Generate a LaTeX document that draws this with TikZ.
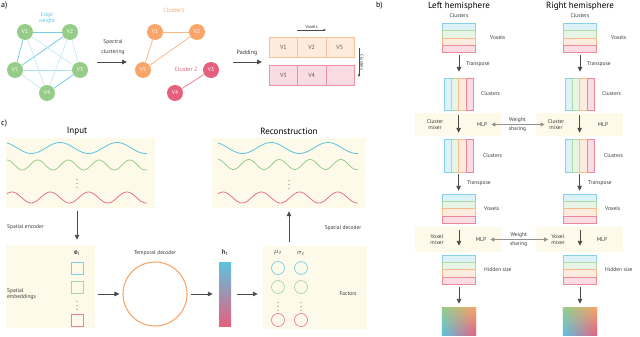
\documentclass[tikz,border=0pt]{standalone}
\usepackage{fontspec}
\setmainfont{PT Sans}
\usetikzlibrary{arrows.meta,positioning,calc}
\definecolor{mxblue}{HTML}{5CC3E0}
\definecolor{mxgreen}{HTML}{95CD88}
\definecolor{mxorange}{HTML}{F8A66A}
\definecolor{mxpink}{HTML}{E6607E}
\definecolor{mxcream}{HTML}{FEFAEA}
\definecolor{mxdark}{HTML}{4A4A4A}
\definecolor{mxtext}{HTML}{3A3A3A}

\begin{document}
\begin{tikzpicture}[x=1pt, y=-1pt,
    vert/.style={circle, fill=#1, minimum size=16pt, inner sep=0pt,
                 text=white, font=\fontsize{5.5}{6}\selectfont},
    gedge/.style={draw=mxblue!50, line width=0.45pt},
    gedge bold/.style={draw=mxblue!85, line width=0.8pt},
    lbl/.style={font=\fontsize{5.5}{6.5}\selectfont, text=mxtext, align=center, inner sep=1pt},
    smalllbl/.style={font=\fontsize{4.5}{5}\selectfont, text=mxtext, inner sep=1pt},
    headline/.style={font=\fontsize{9}{10}\selectfont, text=black, inner sep=0pt},
    paneltag/.style={font=\fontsize{8}{9}\selectfont, anchor=north west, inner sep=0pt},
    band/.style={fill=mxcream, inner sep=0pt},
    arr/.style={-{Triangle[length=5pt,width=4.5pt]}, line width=0.9pt, draw=mxdark},
    thin arr/.style={-{Triangle[length=2.5pt,width=2.2pt]}, line width=0.5pt, draw=mxdark},
    warr/.style={{Triangle[length=4pt,width=4pt]}-{Triangle[length=4pt,width=4pt]},
                 line width=0.9pt, draw=mxdark!60},
    cell/.style={draw=#1!70, fill=#1!22, minimum width=28.2pt, minimum height=20pt,
                 inner sep=0pt, font=\fontsize{6}{7}\selectfont, text=mxtext!85},
    hbar/.style={draw=#1!75, fill=#1!22, minimum width=33pt, minimum height=7.3pt,
                 inner sep=0pt, line width=0.6pt},
    vbar/.style 2 args={draw=#1!75, fill=#1!22, minimum width=7.3pt, minimum height=#2,
                 inner sep=0pt, line width=0.6pt},
    grp/.style={minimum width=#1, inner sep=0pt},
    wave/.style={draw=#1, line width=0.8pt, smooth},
    sqbox/.style={draw=#1!80, line width=0.7pt, minimum size=12pt, inner sep=0pt},
    fcirc/.style={circle, draw=#1!80, line width=0.7pt, minimum size=13pt, inner sep=0pt},
    vdot/.style={font=\fontsize{7}{8}\selectfont, inner sep=0pt}
]
  \useasboundingbox (0,0) rectangle (640,337);

  % a) graph before clustering
  \node[paneltag] at (1,2) {a)};
  \node[vert=mxgreen] (v1) at (25,32) {V1};
  \node[vert=mxgreen] (v2) at (70,32) {V2};
  \node[vert=mxgreen] (v5) at (15,70) {V5};
  \node[vert=mxgreen] (v3) at (80,70) {V3};
  \node[vert=mxgreen] (v4) at (47,93) {V4};
  \node[lbl, text=mxblue, font=\fontsize{5.5}{6}\selectfont] at (47,18) {Edge\\weight};
  \draw[gedge bold] (v1) -- (v2);
  \draw[gedge bold] (v1) -- (v5);
  \draw[gedge bold] (v2) -- (v5);
  \draw[gedge bold] (v3) -- (v4);
  \draw[gedge] (v1) -- (v3);
  \draw[gedge] (v1) -- (v4);
  \draw[gedge] (v2) -- (v3);
  \draw[gedge] (v2) -- (v4);
  \draw[gedge] (v5) -- (v3);
  \draw[gedge] (v5) -- (v4);

  \coordinate (sc1) at (97,62);
  \coordinate (sc2) at (127,62);
  \draw[arr] (sc1) -- (sc2);
  \node[lbl, font=\fontsize{5.5}{9.5}\selectfont] at (113,47) {Spectral\\clustering};

  % a) clusters
  \node[vert=mxorange] (c1) at (155,32) {V1};
  \node[vert=mxorange] (c2) at (197,32) {V2};
  \node[vert=mxorange] (c5) at (143,70) {V5};
  \node[vert=mxpink] (c3) at (211,70) {V3};
  \node[vert=mxpink] (c4) at (175,93) {V4};
  \node[lbl, text=mxorange, font=\fontsize{6}{7}\selectfont] at (174,10) {Cluster1};
  \node[lbl, text=mxpink, font=\fontsize{6}{7}\selectfont] at (186,69) {Cluster 2};
  \draw[draw=mxorange!80, line width=0.8pt] (c1) -- (c2);
  \draw[draw=mxorange!80, line width=0.8pt] (c1) -- (c5);
  \draw[draw=mxorange!80, line width=0.8pt] (c2) -- (c5);
  \draw[draw=mxpink!80, line width=0.8pt] (c3) -- (c4);

  \coordinate (pd1) at (233,62);
  \coordinate (pd2) at (262,62);
  \draw[arr] (pd1) -- (pd2);
  \node[lbl, font=\fontsize{6}{7}\selectfont] at (247,53) {Padding};

  % a) padded table
  \node[cell=mxorange] (t11) at (283.4,47) {V1};
  \node[cell=mxorange] (t12) at (311.6,47) {V2};
  \node[cell=mxorange] (t13) at (339.8,47) {V5};
  \node[cell=mxpink] (t21) at (283.4,75) {V3};
  \node[cell=mxpink] (t22) at (311.6,75) {V4};
  \node[cell=mxpink] (t23) at (339.8,75) {};
  \coordinate (vx1) at (297,30);
  \coordinate (vx2) at (326,30);
  \draw[thin arr] (vx1) -- node[smalllbl, above] {Voxels} (vx2);
  \coordinate (cl1) at (359,48);
  \coordinate (cl2) at (359,77);
  \draw[thin arr] (cl1) -- node[smalllbl, rotate=-90, anchor=south] {Clusters} (cl2);

  % b) both hemispheres
  \node[paneltag] at (376,2) {b)};
  \foreach \s/\dx/\hemi in {L/0/Left, R/121/Right} {
    \begin{scope}[xshift=\dx pt]
      \node[headline] at (459,6) {\hemi\ hemisphere};
      \node[lbl] at (459,16) {Clusters};
      \node[band, minimum width=87pt, minimum height=22.4pt] (\s-mix1) at (458.5,124.5) {};
      \node[band, minimum width=87pt, minimum height=24.4pt] (\s-mix2) at (458.5,239.5) {};

      \node[grp=33pt, minimum height=29.2pt] (\s-st1) at (459,37.9) {};
      \foreach \c [count=\i] in {mxblue,mxgreen,mxorange,mxpink}
        \node[hbar=\c] at (459,{23.3+7.3*\i-3.65}) {};
      \node[grp=29.2pt, minimum height=32pt] (\s-st2) at (458.6,94) {};
      \foreach \c [count=\i] in {mxblue,mxgreen,mxorange,mxpink}
        \node[vbar={\c}{32pt}] at ({444+7.3*\i-3.65},94) {};
      \node[grp=29.2pt, minimum height=33pt] (\s-st3) at (458.6,155.5) {};
      \foreach \c [count=\i] in {mxblue,mxgreen,mxorange,mxpink}
        \node[vbar={\c}{33pt}] at ({444+7.3*\i-3.65},155.5) {};
      \node[grp=33pt, minimum height=29.2pt] (\s-st4) at (459,208.6) {};
      \foreach \c [count=\i] in {mxblue,mxgreen,mxorange,mxpink}
        \node[hbar=\c] at (459,{194+7.3*\i-3.65}) {};
      \node[grp=33pt, minimum height=29.2pt] (\s-st5) at (459,269.6) {};
      \foreach \c [count=\i] in {mxblue,mxgreen,mxorange,mxpink}
        \node[hbar=\c] at (459,{255+7.3*\i-3.65}) {};
      % gradient output, drawn in thin strips
      \node[grp=34pt, minimum height=28pt] (\s-grad) at (459,322) {};
      \foreach \k in {0,...,13} {
        \pgfmathsetmacro\t{(\k+0.5)/14*100}
        \shade[left color=mxblue!\t!mxgreen, right color=mxpink!\t!mxorange]
          ($(\s-grad.north west)+(0,2*\k)$) rectangle ($(\s-grad.north east)+(0,2*\k+2.05)$);
      }

      \node[lbl, anchor=west] at (489,38) {Voxels};
      \node[lbl, anchor=west] at (465,64) {Transpose};
      \node[lbl, anchor=west] at (480,94) {Clusters};
      \node[lbl] (\s-cm) at (435,124.5) {Cluster\\mixer};
      \node[lbl] (\s-mlp1) at (482,124.5) {MLP};
      \node[lbl, anchor=west] at (482,155.5) {Clusters};
      \node[lbl, anchor=west] at (466,183) {Transpose};
      \node[lbl, anchor=west] at (483,208.6) {Voxels};
      \node[lbl] (\s-vm) at (437,239.5) {Voxel\\mixer};
      \node[lbl] (\s-mlp2) at (481,239.5) {MLP};
      \node[lbl, anchor=west] at (483,270) {Hidden size};

      \draw[arr, shorten <=2.5pt, shorten >=6pt] (\s-st1.south) -- (\s-st1.south |- \s-st2.north);
      \draw[arr, shorten <=5pt, shorten >=6pt] (\s-st2.south) -- (\s-st2.south |- \s-st3.north);
      \draw[arr, shorten <=2pt, shorten >=3pt] (\s-st3.south) -- (\s-st3.south |- \s-st4.north);
      \draw[arr, shorten <=7pt, shorten >=9pt] (\s-st4.south) -- (\s-st4.south |- \s-st5.north);
      \draw[arr, shorten <=3pt, shorten >=4pt] (\s-st5.south) -- (\s-st5.south |- \s-grad.north);
    \end{scope}
  }
  \draw[warr, shorten <=3pt, shorten >=2pt] (L-mlp1.east) --
    node[lbl, above=0.5pt] {Weight} node[lbl, below=0.5pt] {sharing} (R-cm.west);
  \draw[warr, shorten <=3pt, shorten >=2pt] (L-mlp2.east) --
    node[lbl, above=0.5pt] {Weight} node[lbl, below=0.5pt] {sharing} (R-vm.west);

  % c) input and reconstruction
  \node[paneltag] at (1,120) {c)};
  \node[band, minimum width=149pt, minimum height=70pt] (inp) at (80.5,173) {};
  \node[band, minimum width=154pt, minimum height=70pt] (rec) at (289,173) {};
  \node[headline] at (77,131) {Input};
  \node[headline] at (289,131) {Reconstruction};
  \draw[wave=mxblue] plot[domain=7:147, samples=90] (\x,{148-5.5*cos((\x-3)*6.3158)});
  \draw[wave=mxgreen] plot[domain=7:147, samples=110] (\x,{165-5*cos((\x-7)*11.7264)});
  \draw[wave=mxpink!90] plot[domain=7:147, samples=100] (\x,{197.5-5.5*cos((\x-12)*9.3995)});
  \node[vdot] at (77,181) {$\vdots$};
  \draw[wave=mxblue] plot[domain=218:358, samples=90] (\x,{148-5.5*cos((\x-214)*6.3158)});
  \draw[wave=mxgreen] plot[domain=218:358, samples=110] (\x,{164.5-5*cos((\x-218)*11.7264)});
  \draw[wave=mxpink!90] plot[domain=218:358, samples=100] (\x,{197.5-5.5*cos((\x-223)*9.3995)});
  \node[vdot] at (289,182) {$\vdots$};

  % c) embeddings, decoder, factors
  \node[band, minimum width=89pt, minimum height=83pt] (emb) at (50.5,286.5) {};
  \node[lbl, font=\fontsize{7}{8}\selectfont] at (77,253) {\textbf{e}\textsubscript{t}};
  \node[sqbox=mxblue] (esq1) at (77,268) {};
  \node[sqbox=mxgreen] (esq2) at (77,287) {};
  \node[vdot] at (77,303) {$\vdots$};
  \node[sqbox=mxpink] (esq3) at (77,320) {};
  \node[lbl, anchor=west, align=left] at (6,294) {Spatial\\embeddings};
  \node[lbl, anchor=west] at (6,227) {Spatial encoder};

  \node[circle, draw=mxorange, line width=1.1pt, minimum size=64pt] (tdec) at (155,294) {};
  \node[lbl] at (155,253) {Temporal decoder};
  \node[top color=mxblue, middle color=mxgreen, bottom color=mxpink,
        minimum width=12pt, minimum height=64pt, inner sep=0pt] (ht) at (225,294) {};
  \node[lbl, font=\fontsize{7}{8}\selectfont] at (225,253) {\textbf{h}\textsubscript{t}};

  \node[band, minimum width=104pt, minimum height=83pt] (fac) at (315,287.5) {};
  \node[lbl, font=\fontsize{7}{8}\selectfont] at (278,253) {$\mu_t$};
  \node[lbl, font=\fontsize{7}{8}\selectfont] at (301,253) {$\sigma_t$};
  \node[fcirc=mxblue] (mu1) at (278,268) {};
  \node[fcirc=mxgreen] (mu2) at (278,287) {};
  \node[vdot] at (278,304) {$\vdots$};
  \node[fcirc=mxpink] (mu3) at (278,320) {};
  \node[fcirc=mxblue] (sg1) at (301,268) {};
  \node[fcirc=mxgreen] (sg2) at (301,287) {};
  \node[vdot] at (301,304) {$\vdots$};
  \node[fcirc=mxpink] (sg3) at (301,320) {};
  \node[lbl] at (348,294) {Factors};
  \node[lbl] at (343,228) {Spatial decoder};

  % Connecting arrows
  \draw[arr, shorten <=3pt, shorten >=5pt] (inp.south -| esq1) -- (emb.north -| esq1);
  \draw[arr, shorten <=3pt, shorten >=3pt] (emb.east |- tdec.west) -- (tdec.west);
  \draw[arr, shorten <=3pt, shorten >=6pt] (tdec.east) -- (ht.west);
  \draw[arr, shorten <=6pt, shorten >=5pt] (ht.east) -- (fac.west |- ht.east);
  \draw[arr, shorten <=4pt, shorten >=3pt] (rec.south |- fac.north) -- (rec.south);
\end{tikzpicture}
\end{document}
